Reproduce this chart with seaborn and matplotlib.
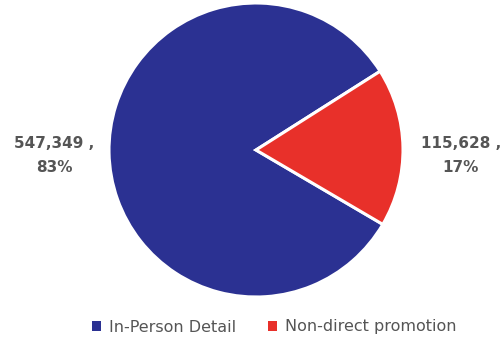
import matplotlib
matplotlib.use("Agg")
import matplotlib.pyplot as plt
import seaborn as sns
from matplotlib.patches import Patch

sns.set_theme(style="white")
plt.rcParams["font.family"] = ["DejaVu Sans"]

categories = ["In-Person Detail", "Non-direct promotion"]
values = [547349, 115628]
colors = sns.color_palette(["#2B3192", "#E8302A"])

W, H = 504, 341
fig = plt.figure(figsize=(W / 100, H / 100), dpi=100)
cx, cy, r = 256, 150, 147
ax = fig.add_axes([(cx - r) / W, (H - cy - r) / H, 2 * r / W, 2 * r / H])

total = sum(values)
start = 180 * values[1] / total + 1  # smaller slice sits on the right
wedges, _ = ax.pie(values, colors=colors, startangle=start, counterclock=True,
                   wedgeprops=dict(edgecolor="white", linewidth=2.2))
ax.set_xlim(-1, 1)
ax.set_ylim(-1, 1)
ax.set_aspect("equal")

label_style = dict(fontsize=11, fontweight="bold", color="#555555",
                   ha="center", va="center", linespacing=1.75)
fig.text(54 / W, 1 - 155 / H, f"{values[0]:,} ,\n{round(100 * values[0] / total)}%",
         **label_style)
fig.text(461 / W, 1 - 155 / H, f"{values[1]:,} ,\n{round(100 * values[1] / total)}%",
         **label_style)

handles = [Patch(facecolor=c, edgecolor="none") for c in colors]
leg = fig.legend(handles, categories, loc="center", bbox_to_anchor=(274 / W, 1 - 327 / H),
                 ncol=2, frameon=False, fontsize=11.5, handlelength=0.55, handleheight=0.55,
                 handletextpad=0.5, columnspacing=2.0)
for t in leg.get_texts():
    t.set_color("#555555")

fig.savefig("out.png", dpi=100)
